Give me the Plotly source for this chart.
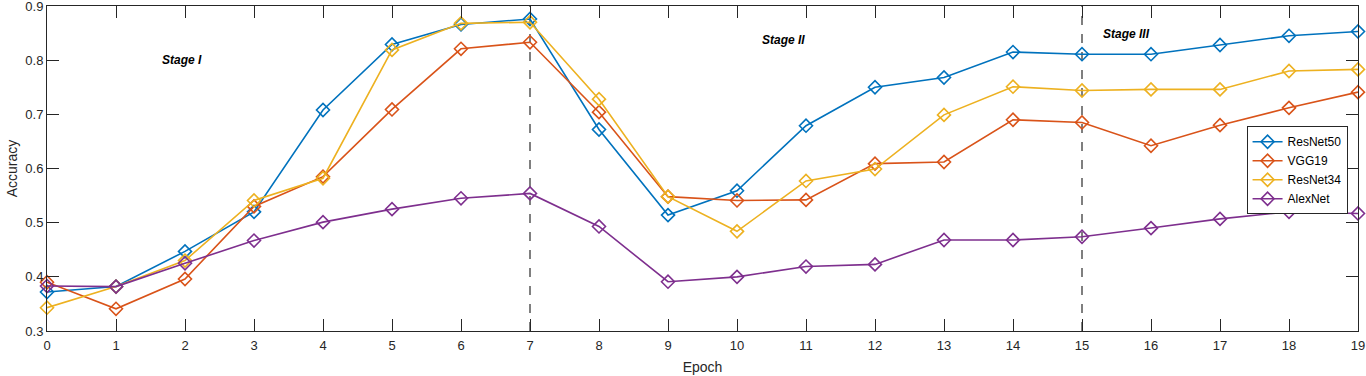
import plotly.graph_objects as go

epochs = list(range(20))

resnet50 = [0.372, 0.382, 0.447, 0.520, 0.708, 0.829, 0.866, 0.876, 0.672, 0.514,
            0.559, 0.679, 0.750, 0.768, 0.815, 0.811, 0.811, 0.828, 0.845, 0.853]
vgg19 = [0.390, 0.341, 0.396, 0.530, 0.585, 0.709, 0.821, 0.833, 0.704, 0.548,
         0.541, 0.542, 0.609, 0.612, 0.690, 0.685, 0.642, 0.680, 0.712, 0.741]
resnet34 = [0.343, 0.382, 0.430, 0.541, 0.582, 0.819, 0.868, 0.870, 0.728, 0.548,
            0.484, 0.577, 0.599, 0.699, 0.751, 0.744, 0.746, 0.746, 0.780, 0.783]
alexnet = [0.383, 0.382, 0.425, 0.467, 0.501, 0.525, 0.545, 0.554, 0.493, 0.391,
           0.400, 0.419, 0.423, 0.468, 0.468, 0.474, 0.490, 0.507, 0.520, 0.517]

y_ticks = [0.3, 0.4, 0.5, 0.6, 0.7, 0.8, 0.9]

series = [("ResNet50", resnet50, "#0072BD"),
          ("VGG19", vgg19, "#D95319"),
          ("ResNet34", resnet34, "#EDB120"),
          ("AlexNet", alexnet, "#7E2F8E")]

stage_lines = [7, 15]
stage_labels = [("Stage I", 1.96, 0.800), ("Stage II", 10.68, 0.837), ("Stage III", 15.64, 0.848)]

fig = go.Figure()

for x0 in stage_lines:
    fig.add_trace(go.Scatter(x=[x0, x0], y=[0.3, 0.9], mode="lines", showlegend=False,
                             line=dict(color="#555555", width=1.5, dash="dash"), hoverinfo="skip"))

for name, vals, col in series:
    fig.add_trace(go.Scatter(x=epochs, y=vals, mode="lines+markers", name=name,
                             line=dict(color=col, width=1.6),
                             marker=dict(symbol="diamond-open", size=10, color=col, line=dict(width=1.6)),
                             cliponaxis=False))

for txt, x, y in stage_labels:
    fig.add_annotation(x=x, y=y, text="<b><i>" + txt + "</i></b>", showarrow=False,
                       font=dict(size=12, color="#000000"))

axis_style = dict(showline=True, linecolor="#262626", linewidth=1, mirror="ticks",
                  ticks="inside", ticklen=12, tickcolor="#262626", showgrid=False, zeroline=False,
                  automargin=False, ticklabeloverflow="allow",
                  tickfont=dict(size=13, color="#262626"))

fig.update_xaxes(range=[0, 19], tickvals=epochs, ticklabelstandoff=2,
                 title=dict(text="Epoch", font=dict(size=14, color="#262626"), standoff=10),
                 **axis_style)
fig.update_yaxes(range=[0.3, 0.9], tickvals=y_ticks, ticktext=[f"{v:.1f}" for v in y_ticks],
                 title=dict(text="Accuracy", font=dict(size=14, color="#262626"), standoff=4),
                 **axis_style)

fig.update_layout(width=1366, height=376, margin=dict(l=47, r=8, t=6, b=45),
                  plot_bgcolor="white", paper_bgcolor="white",
                  font=dict(family="Liberation Sans, Arial", color="#262626"),
                  legend=dict(x=0.915, y=0.63, xanchor="left", yanchor="top",
                              bgcolor="white", bordercolor="#262626", borderwidth=1,
                              font=dict(size=12, color="#000000"), tracegroupgap=0,
                              itemwidth=30))

# page body has an 8px default margin; drop it so the figure fills the window
fig.write_html("out.html", config={"displayModeBar": False},
               post_script="document.body.style.margin='0';")
